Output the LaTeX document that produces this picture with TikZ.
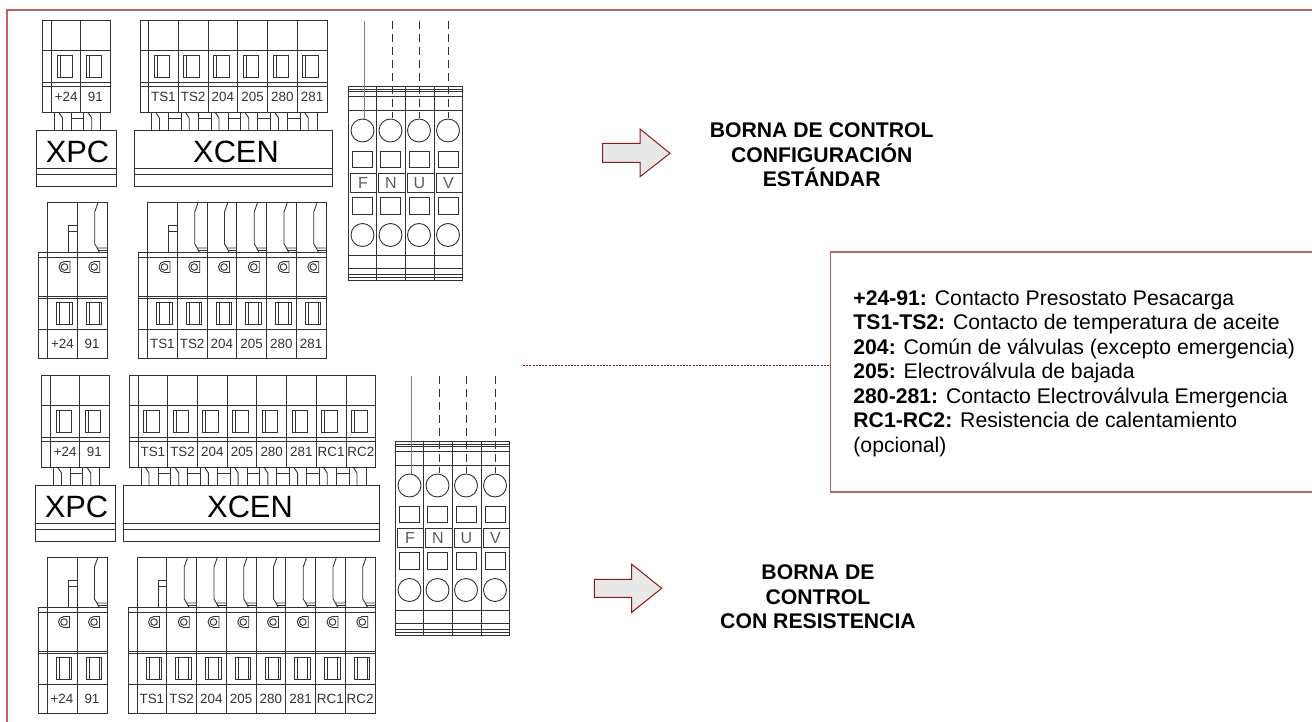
\documentclass[tikz,border=0pt]{standalone}
\usepackage{fontspec}
\setmainfont{Liberation Sans}
\definecolor{framered}{RGB}{186,100,100}
\definecolor{arrowred}{RGB}{139,26,26}
\definecolor{arrowgray}{RGB}{232,232,232}
\definecolor{partgray}{RGB}{50,50,50}
\tikzset{
  part/.style={draw=partgray,line width=0.45pt},
  termlabel/.style={inner sep=0pt,text=partgray,font=\fontsize{6.7}{8}\selectfont},
  pluglabel/.style={inner sep=0pt,text=black,font=\fontsize{15.4}{18}\selectfont},
  striplabel/.style={inner sep=0pt,text=partgray!80,font=\fontsize{8}{10}\selectfont},
  titlelabel/.style={inner sep=0pt,align=center,font=\fontsize{10.6}{12.3}\selectfont\bfseries},
  flowarrow/.style={draw=arrowred,fill=arrowgray,line width=0.5pt}
}
% #1 name, #2 left edge, #3 first column, #4 right edge, #5 columns, #6 top, #7 labels
\newcommand{\plugtop}[7]{
  \pgfmathsetmacro\colw{(#4-#3)/#5}
  \draw[part] (#2,#6) rectangle (#4,#6+92);
  \draw[part] (#2,#6+30) -- (#4,#6+30);
  \draw[part] (#2,#6+62.5) -- (#4,#6+62.5);
  \draw[part] (#2,#6+66) -- (#4,#6+66);
  \foreach \lab [count=\i from 0] in {#7} {
    \pgfmathsetmacro\colx{#3+\i*\colw}
    \draw[part] (\colx,#6) -- (\colx,#6+92);
    \draw[part] (\colx+5.5,#6+35) rectangle (\colx+21,#6+57);
    \draw[part] (\colx+8.5,#6+35) -- (\colx+8.5,#6+57);
    \node[termlabel] (#1-\i) at (\colx+\colw/2,#6+77) {\lab};
    % pins down to the connector
    \draw[part] (\colx+3,#6+92) -- (\colx+3,#6+110);
    \draw[part] (\colx+7,#6+92) -- (\colx+11,#6+98) -- (\colx+11,#6+110);
    \draw[part] (\colx+20,#6+92) -- (\colx+20,#6+110);
    \ifnum\i<\numexpr#5-1\relax
      \draw[part] (\colx+20,#6+98) -- (\colx+\colw+3,#6+98);
    \fi
  }
}
% #1 name, #2 left, #3 right, #4 top of the plug, #5 text x, #6 text
\newcommand{\plugbox}[6]{
  \draw[part] (#2,#4+110) rectangle (#3,#4+166);
  \draw[part] (#2,#4+148) -- (#3,#4+148);
  \draw[part] (#2,#4+154) -- (#3,#4+154);
  \node[pluglabel] (#1) at (#5,#4+132) {#6};
}
% #1 name, #2 left edge, #3 first column, #4 right edge, #5 columns, #6 top, #7 labels
\newcommand{\plugfront}[7]{
  \pgfmathsetmacro\colw{(#4-#3)/#5}
  \draw[part] (#3,#6) -- (#4,#6) -- (#4,#6+156.5) -- (#2,#6+156.5) -- (#2,#6+50) -- (#4,#6+50);
  \draw[part] (#2,#6+55) -- (#4,#6+55);
  \draw[part] (#2,#6+94) -- (#4,#6+94);
  \draw[part] (#2,#6+96.5) -- (#4,#6+96.5);
  \draw[part] (#2,#6+127.5) -- (#4,#6+127.5);
  \foreach \lab [count=\i from 0] in {#7} {
    \pgfmathsetmacro\colx{#3+\i*\colw}
    \draw[part] (\colx,#6) -- (\colx,#6+156.5);
    \draw[part] (\colx+9,#6+100) rectangle (\colx+24.5,#6+122);
    \draw[part] (\colx+12,#6+100) -- (\colx+12,#6+122);
    \draw[part] (\colx+22,#6+100) -- (\colx+22,#6+122);
    \node[termlabel] (#1-\i) at (\colx+\colw/2,#6+142) {\lab};
    % screw
    \draw[part] (\colx+17,#6+70.5) arc[start angle=90,end angle=270,radius=5.5] -- (\colx+22.5,#6+59.5) -- (\colx+22.5,#6+70.5) -- cycle;
    \draw[part] (\colx+17,#6+65) circle[radius=3.3];
    % latch or hook
    \ifnum\i=0
      \draw[part] (\colx+21,#6+50) -- (\colx+21,#6+23) -- (\colx+\colw,#6+23);
      \draw[part] (\colx+21,#6+29) -- (\colx+\colw,#6+29);
    \else
      \draw[part] (\colx+21,#6) -- (\colx+17.5,#6+10) -- (\colx+17.5,#6+42) -- (\colx+20,#6+46) -- (\colx+\colw,#6+46);
      \draw[part] (\colx+20,#6+46) -- (\colx+22,#6+50);
      \draw[part] (\colx+21,#6+48) -- (\colx+\colw,#6+48);
    \fi
  }
}
% #1 name, #2 x shift, #3 y shift
\newcommand{\termstrip}[3]{
  \begin{scope}[shift={(#2,#3)}]
    \draw[part] (348.5,86) rectangle (462.5,280);
    \foreach \yy in {89,91,96.5,110.5,255,268,274.5,277.5} {
      \draw[part] (348.5,\yy) -- (462.5,\yy);
    }
    \foreach \xx in {376.5,405.5,434.5} {
      \draw[part] (\xx,86) -- (\xx,280);
    }
    \foreach \lab/\xc/\xw/\lx/\rx [count=\i] in {F/362.5/364.3/350.5/376.5,N/390.5/392/378.5/405.5,U/419/419.5/407.5/434.5,V/448/448.5/436/462.5} {
      \draw[part] (\xc,130.5) circle[radius=11.5];
      \draw[part] (\xc,235) circle[radius=11.5];
      \draw[part] (\xc-10,151.5) rectangle (\xc+10,167.5);
      \draw[part] (\xc-10,197.5) rectangle (\xc+10,214.5);
      \draw[part] (\lx,173) rectangle (\rx,192.5);
      \node[striplabel] (#1-\i) at (\xc+0.5,183) {\lab};
      \ifnum\i=1
        \draw[draw=gray,line width=0.8pt] (\xw,21) -- (\xw,119);
      \else
        \draw[part,dash pattern=on 4pt off 2.5pt] (\xw,21) -- (\xw,118);
      \fi
    }
  \end{scope}
}
\begin{document}
\begin{tikzpicture}[x=0.5pt,y=-0.5pt]
  \useasboundingbox (0,0) rectangle (1312,722);

  % Outer frame, open to the right and below
  \coordinate (framea) at (1330,10);
  \coordinate (frameb) at (7,10);
  \coordinate (framec) at (7,730);
  \draw[framered,line width=0.8pt] (framea) -- (frameb) -- (framec);

  % Standard configuration
  \plugtop{xpctop}{42.5}{51.5}{110}{2}{20}{+24,91}
  \plugbox{xpca}{36}{116}{20}{77.5}{XPC}
  \plugtop{xcentop}{140}{148.5}{327}{6}{20}{TS1,TS2,204,205,280,281}
  \plugbox{xcena}{134.5}{332.5}{20}{236}{XCEN}
  \plugfront{xpcfront}{38.5}{47.5}{107}{2}{202}{+24,91}
  \plugfront{xcenfront}{138.5}{147.5}{326}{6}{202}{TS1,TS2,204,205,280,281}
  \termstrip{stripa}{0}{0}

  % Configuration with heater
  \plugtop{xpcbot}{41.5}{50.5}{109}{2}{375}{+24,91}
  \plugbox{xpcb}{35}{115.5}{375}{76.5}{XPC}
  \plugtop{xcenbot}{129}{138}{375.7}{8}{375}{TS1,TS2,204,205,280,281,RC1,RC2}
  \plugbox{xcenb}{123.5}{379.5}{375}{250}{XCEN}
  \plugfront{xpclow}{38}{47}{107}{2}{557}{+24,91}
  \plugfront{xcenlow}{128}{137}{375}{8}{557}{TS1,TS2,204,205,280,281,RC1,RC2}
  \termstrip{stripb}{47}{355}

  % Arrows and titles
  \draw[flowarrow] (602.7,143.3) -- (640,143.3) -- (640,129) -- (670,153.3) -- (640,176.7) -- (640,162.3) -- (602.7,162.3) -- cycle;
  \draw[flowarrow] (594.3,579.3) -- (631.7,579.3) -- (631.7,564.3) -- (661.7,588.3) -- (631.7,612.3) -- (631.7,597.3) -- (594.3,597.3) -- cycle;
  \node[titlelabel] (titlea) at (821.7,155) {BORNA DE CONTROL\\CONFIGURACIÓN\\ESTÁNDAR};
  \node[titlelabel] (titleb) at (818,597) {BORNA DE\\CONTROL\\CON RESISTENCIA};

  % Legend box, open to the right
  \node[draw=framered,line width=0.8pt,inner sep=0pt,minimum width=249.75pt,minimum height=120pt] (legendbox) at (1080.4,372) {};
  \coordinate (leader) at (523,365.7);
  \draw[arrowred,line width=0.5pt,dash pattern=on 1pt off 0.6pt] (leader) -- (leader-|legendbox.west);
  \node[inner sep=0pt,anchor=west,align=left,font=\fontsize{10.6}{12.25}\selectfont] (legendtext) at (853,373.5) {\textbf{+24-91:} Contacto Presostato Pesacarga\\\textbf{TS1-TS2:} Contacto de temperatura de aceite\\\textbf{204:} Común de válvulas (excepto emergencia)\\\textbf{205:} Electroválvula de bajada\\\textbf{280-281:} Contacto Electroválvula Emergencia\\\textbf{RC1-RC2:} Resistencia de calentamiento\\(opcional)};
\end{tikzpicture}
\end{document}
